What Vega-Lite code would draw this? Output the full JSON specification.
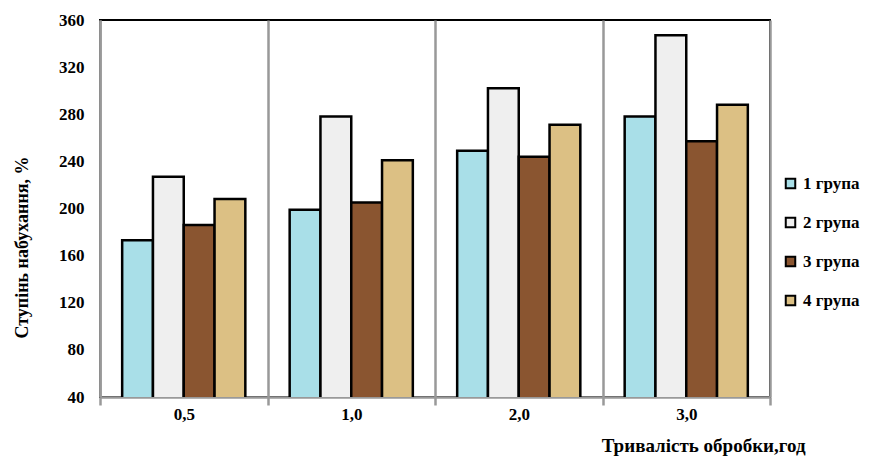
{
  "$schema": "https://vega.github.io/schema/vega-lite/v6.json",
  "width": 670,
  "height": 377,
  "autosize": {"type": "none"},
  "padding": {"left": 100, "top": 20, "right": 102, "bottom": 62},
  "background": "white",
  "config": {
    "view": {"stroke": "black", "strokeWidth": 2},
    "font": "Liberation Serif, Times New Roman, DejaVu Serif, serif"
  },
  "data": {
    "values": [
      {"t": "0,5", "g": "1 група", "v": 173},
      {"t": "0,5", "g": "2 група", "v": 227},
      {"t": "0,5", "g": "3 група", "v": 186},
      {"t": "0,5", "g": "4 група", "v": 208},
      {"t": "1,0", "g": "1 група", "v": 199},
      {"t": "1,0", "g": "2 група", "v": 278},
      {"t": "1,0", "g": "3 група", "v": 205},
      {"t": "1,0", "g": "4 група", "v": 241},
      {"t": "2,0", "g": "1 група", "v": 249},
      {"t": "2,0", "g": "2 група", "v": 302},
      {"t": "2,0", "g": "3 група", "v": 244},
      {"t": "2,0", "g": "4 група", "v": 271},
      {"t": "3,0", "g": "1 група", "v": 278},
      {"t": "3,0", "g": "2 група", "v": 347},
      {"t": "3,0", "g": "3 група", "v": 257},
      {"t": "3,0", "g": "4 група", "v": 288}
    ]
  },
  "mark": {"type": "bar", "stroke": "black", "strokeWidth": 2.5, "clip": true},
  "encoding": {
    "x": {
      "field": "t",
      "type": "nominal",
      "sort": null,
      "scale": {"paddingInner": 0, "paddingOuter": 0},
      "axis": {
        "title": "Тривалість обробки,год",
        "titleFont": "Liberation Serif, Times New Roman, DejaVu Serif, serif",
        "titleFontSize": 19,
        "titleFontWeight": "bold",
        "titleColor": "black",
        "titleX": 705,
        "titleY": 48,
        "titleAlign": "right",
        "titleBaseline": "middle",
        "labelAngle": 0,
        "labelFont": "Liberation Serif, Times New Roman, DejaVu Serif, serif",
        "labelFontSize": 17,
        "labelFontWeight": "bold",
        "labelColor": "black",
        "labelPadding": 1,
        "tickBand": "extent",
        "tickSize": 8,
        "tickColor": "#999999",
        "tickWidth": 2.5,
        "domainColor": "#999999",
        "domainWidth": 2.5,
        "grid": true,
        "gridColor": "#999999",
        "gridWidth": 2.5
      }
    },
    "xOffset": {"field": "g", "type": "nominal", "scale": {"paddingInner": 0, "paddingOuter": 0.72}},
    "y": {
      "field": "v",
      "type": "quantitative",
      "scale": {"domain": [40, 360], "nice": false, "zero": false},
      "axis": {
        "title": "Ступінь набухання, %",
        "titleFont": "Liberation Serif, Times New Roman, DejaVu Serif, serif",
        "titleFontSize": 18,
        "titleFontWeight": "bold",
        "titleColor": "black",
        "titleX": -78,
        "titleY": 227,
        "titleAngle": -90,
        "titleAlign": "center",
        "titleBaseline": "middle",
        "values": [40, 80, 120, 160, 200, 240, 280, 320, 360],
        "labelFont": "Liberation Serif, Times New Roman, DejaVu Serif, serif",
        "labelFontSize": 17,
        "labelFontWeight": "bold",
        "labelColor": "black",
        "labelPadding": 16,
        "tickSize": 0,
        "domainColor": "#999999",
        "domainWidth": 2.5,
        "grid": false
      }
    },
    "fill": {
      "field": "g",
      "type": "nominal",
      "scale": {
        "domain": ["1 група", "2 група", "3 група", "4 група"],
        "range": ["#a9dfe8", "#efefef", "#8a5530", "#dcc084"]
      },
      "legend": {
        "title": null,
        "orient": "none",
        "legendX": 682,
        "legendY": 155,
        "symbolType": "square",
        "symbolSize": 90,
        "symbolStrokeColor": "black",
        "symbolStrokeWidth": 2,
        "labelFont": "Liberation Serif, Times New Roman, DejaVu Serif, serif",
        "labelFontSize": 17,
        "labelFontWeight": "bold",
        "labelColor": "black",
        "labelOffset": 4,
        "rowPadding": 20
      }
    }
  }
}
